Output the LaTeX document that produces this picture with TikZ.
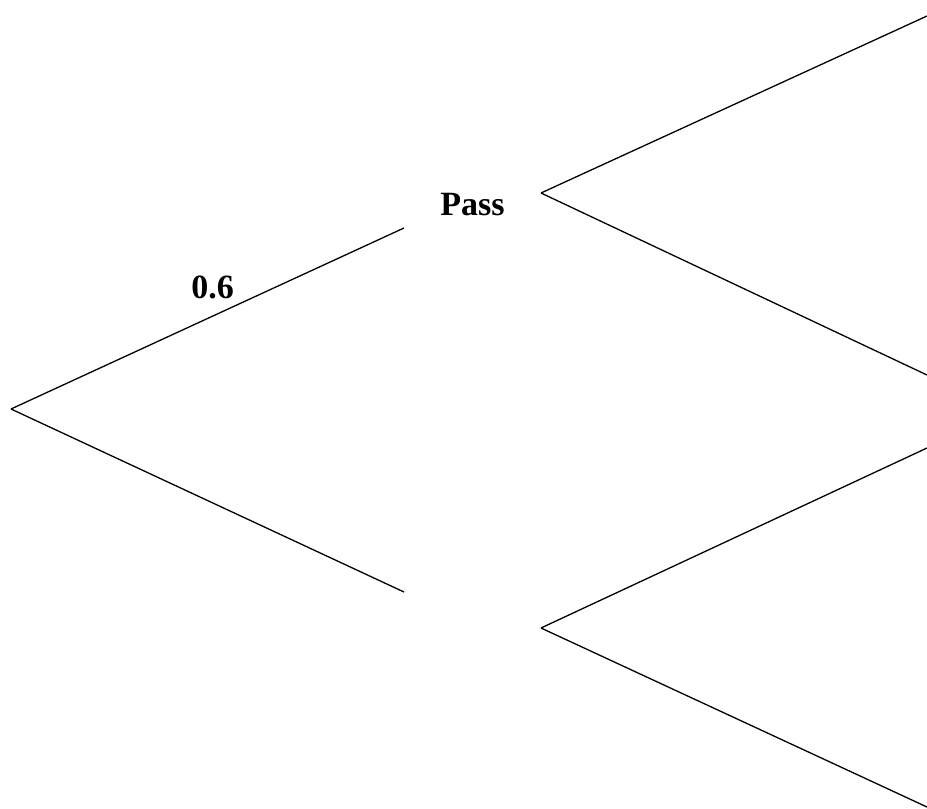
\documentclass[tikz,border=0pt]{standalone}
\usepackage{fontspec}
\setmainfont{Liberation Serif}
\begin{document}
\begin{tikzpicture}[x=1pt,y=-1pt,
  branch/.style={draw=black,line width=1.3pt},
  lbl/.style={font=\fontsize{34}{37}\selectfont\bfseries,inner sep=0pt,anchor=base}]
\useasboundingbox (0,0) rectangle (927,809);
\coordinate (root) at (11,409);
\coordinate (up) at (404,228);
\coordinate (down) at (404,592);
\coordinate (pass) at (541,193);
\coordinate (low) at (541,628);
\coordinate (e1) at (927,16);
\coordinate (e2) at (927,375);
\coordinate (e3) at (927,448);
\coordinate (e4) at (927,807);
\draw[branch] (root) -- (up);
\draw[branch] (root) -- (down);
\draw[branch] (pass) -- (e1);
\draw[branch] (pass) -- (e2);
\draw[branch] (low) -- (e3);
\draw[branch] (low) -- (e4);
\node[lbl] (passlbl) at (472.5,215) {Pass};
\node[lbl] (p06) at (212.7,298.3) {0.6};
\end{tikzpicture}
\end{document}
